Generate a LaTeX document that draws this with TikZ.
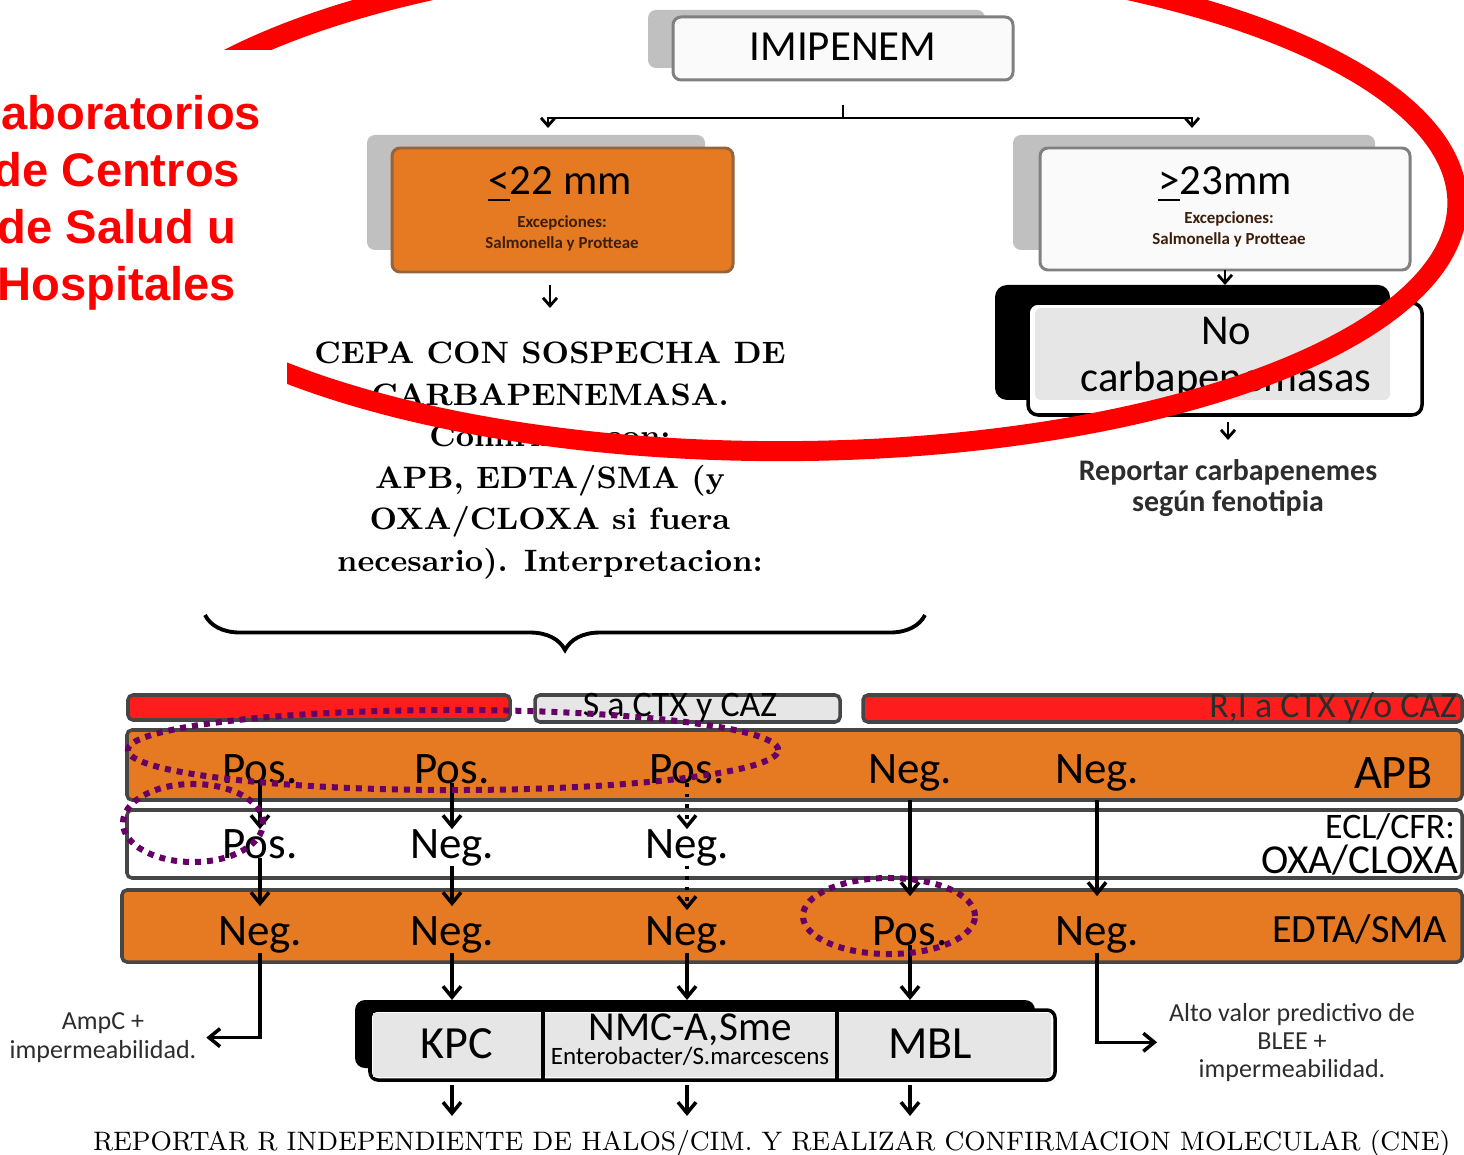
\documentclass[tikz,border=0pt]{standalone}
\usepackage{fontspec}
\newfontfamily\calib{Carlito}
\newfontfamily\arialb{Liberation Sans}
\usetikzlibrary{arrows.meta,decorations.pathreplacing,positioning,fit}
\definecolor{boxorange}{RGB}{229,122,34}
\definecolor{orangeline}{RGB}{150,100,60}
\definecolor{backgray}{RGB}{192,192,192}
\definecolor{cardline}{RGB}{128,128,128}
\definecolor{cardwhite}{RGB}{250,250,250}
\definecolor{barline}{RGB}{70,70,70}
\definecolor{barred}{RGB}{255,28,28}
\definecolor{cellgray}{RGB}{230,230,230}
\definecolor{ringpurple}{RGB}{102,0,102}
\definecolor{darktext}{RGB}{45,45,45}
\definecolor{darkbrown}{RGB}{60,30,10}

\begin{document}
\begin{tikzpicture}[x=0.01cm, y=-0.01cm,
    every node/.style={inner sep=0pt, outer sep=0pt},
    backdrop/.style={fill=backgray, rounded corners=0.08cm},
    card/.style={draw=cardline, line width=0.85pt, rounded corners=0.08cm},
    band/.style={draw=barline, line width=1pt, rounded corners=0.05cm},
    cell/.style={fill=cellgray},
    big/.style={font=\calib\fontsize{12.2}{14}\selectfont},
    small/.style={font=\calib\bfseries\fontsize{4.8}{6}\selectfont, align=center, text=darkbrown},
    row/.style={font=\calib\fontsize{12.8}{14}\selectfont, anchor=base},
    side/.style={font=\calib\fontsize{7.4}{8}\selectfont, align=center, anchor=north, text=darktext},
    toparrow/.style={-{Straight Barb[length=0.08cm,width=0.14cm]}, line width=0.8pt},
    rowarrow/.style={-{Straight Barb[length=0.11cm,width=0.18cm]}, line width=1pt},
    ring/.style={draw=ringpurple, line width=0.06cm, dash pattern=on 0.06cm off 0.06cm}]
  \useasboundingbox (0,0) rectangle (1464,1155);
  \clip (0,0) rectangle (1464,1155);

  \node[backdrop, fit={(648,10)(985,68)}] (imish) {};
  \node[card, fill=cardwhite, fit={(673,17)(1013,80)}] (imi) {};
  \node[big] (imitxt) at (843,47) {IMIPENEM};
  \coordinate (split) at (843,118);
  \coordinate (lt) at (548,128);
  \coordinate (rt) at (1192,128);
  \draw[line width=0.8pt] (split) ++(0,-13) -- (split);
  \draw[toparrow] (split) -| (lt);
  \draw[toparrow] (split) -| (rt);

  \node[backdrop, fit={(367,135)(705,250)}] (lesh) {};
  \node[card, fill=boxorange, draw=orangeline, fit={(392,148)(733,272)}] (le) {};
  \node[big, anchor=base] (letxt) at (560,195) {\underline{<}22 mm};
  \node[small] (leexc) at (562,233) {Excepciones:\\Salmonella y Protteae};

  \node[backdrop, fit={(1013,135)(1375,250)}] (gesh) {};
  \node[card, fill=cardwhite, fit={(1040,148)(1410,270)}] (ge) {};
  \node[big, anchor=base] (getxt) at (1225,195) {\underline{>}23mm};
  \node[small] (geexc) at (1229,229) {Excepciones:\\Salmonella y Protteae};

  \node[fill=black, rounded corners=0.12cm, fit={(995,285)(1390,400)}] (nocarbsh) {};
  \node[draw=black, fill=white, line width=1pt, rounded corners=0.1cm, fit={(1028,303)(1422,415)}] (nocarb) {};
  \node[cell, rounded corners=0.06cm, fit={(1035,308)(1390,400)}] (nocarbin) {};
  \node[font=\calib\fontsize{12.1}{13.4}\selectfont, align=center] (nocarbtxt) at (1226,358) {No\\carbapenemasas};
  \draw[toparrow] (ge.south) -- (ge.south |- nocarbsh.north);
  \node[font=\calib\bfseries\fontsize{8.5}{8.8}\selectfont, align=center, anchor=north, text=darktext] (rep) at (1228,460) {Reportar carbapenemes\\según fenotipia};
  \draw[toparrow] ([yshift=-0.07cm]nocarb.south -| rep.north) -- ([yshift=0.2cm]rep.north);

  \node[font=\bfseries\fontsize{8.8}{11.8}\selectfont, align=center, anchor=north] (cepa) at (550,342) {CEPA CON SOSPECHA DE\\CARBAPENEMASA.\\Confirmar con:\\APB, EDTA/SMA (y\\OXA/CLOXA si fuera\\necesario). Interpretacion:};
  \draw[toparrow] ([yshift=-0.13cm]le.south -| cepa.north) -- ([yshift=0.34cm]cepa.north);
  \coordinate (bl) at (205,615);
  \coordinate (br) at (925,615);
  \draw[line width=1.1pt, decorate, decoration={brace, mirror, amplitude=0.35cm}] (bl) -- (br);

  \node[band, fill=barred, fit={(128,695)(510,720)}] (sred) {};
  \node[band, fill=cellgray, fit={(535,695)(840,722)}] (sgray) {};
  \node[font=\calib\fontsize{10.2}{12}\selectfont] (stxt) at (680,708) {S a CTX y CAZ};
  \node[band, fill=barred, fit={(863,695)(1462,722)}] (rred) {};
  \node[font=\calib\fontsize{10.2}{12}\selectfont, anchor=east, text=darktext] (rtxt) at (1457,708) {R,I a CTX y/o CAZ};

  \node[band, fill=boxorange, fit={(127,730)(1462,800)}] (apb) {};
  \node[band, fill=white, fit={(127,810)(1462,878)}] (oxa) {};
  \node[band, fill=boxorange, fit={(122,890)(1462,962)}] (edta) {};

  \node[row] (a1) at (260,783) {Pos.};
  \node[row] (a2) at (452,783) {Pos.};
  \node[row] (a3) at (687,783) {Pos.};
  \node[row] (a4) at (910,783) {Neg.};
  \node[row] (a5) at (1097,783) {Neg.};
  \node[row, anchor=base east, font=\calib\fontsize{13.7}{15}\selectfont] (apbtxt) at (1433,788) {APB};
  \node[row] (o1) at (260,858) {Pos.};
  \node[row] (o2) at (452,858) {Neg.};
  \node[row] (o3) at (687,858) {Neg.};
  \node[row, anchor=base east, font=\calib\fontsize{10.2}{12}\selectfont] (ecltxt) at (1455,838) {ECL/CFR:};
  \node[row, anchor=base east, font=\calib\fontsize{11.7}{13}\selectfont] (oxatxt) at (1458,873) {OXA/CLOXA};
  \node[row] (e1) at (260,945) {Neg.};
  \node[row] (e2) at (452,945) {Neg.};
  \node[row] (e3) at (687,945) {Neg.};
  \node[row] (e4) at (910,945) {Pos.};
  \node[row] (e5) at (1097,945) {Neg.};
  \node[row, anchor=base east, font=\calib\fontsize{11.4}{13}\selectfont] (edtatxt) at (1447,942) {EDTA/SMA};

  \draw[rowarrow] (a1.south) -- (o1.north);
  \draw[rowarrow] (o1.south) -- ([yshift=0.1cm]e1.north);
  \draw[rowarrow] (a2.south) -- (o2.north);
  \draw[rowarrow] (o2.south) -- ([yshift=0.1cm]e2.north);
  \draw[rowarrow, dotted] (a3.south) -- (o3.north);
  \draw[rowarrow, dotted] (o3.south) -- ([yshift=0.06cm]e3.north);
  \draw[rowarrow] (a4 |- apb.south) -- ([yshift=0.2cm]e4.north);
  \draw[rowarrow] (a5 |- apb.south) -- ([yshift=0.2cm]e5.north);

  \node[fill=black, rounded corners=0.1cm, fit={(355,1000)(1035,1068)}] (mechsh) {};
  \node[draw=black, fill=white, line width=1pt, rounded corners=0.08cm, fit={(370,1010)(1055,1080)}] (mech) {};
  \node[cell, fit={(373,1013)(543,1077)}] (kpc) {};
  \node[cell, fit={(543,1013)(837,1077)}] (nmc) {};
  \node[cell, fit={(837,1013)(1051,1077)}] (mbl) {};
  \draw[line width=1pt] (kpc.east |- mech.north) -- (kpc.east |- mech.south);
  \draw[line width=1pt] (nmc.east |- mech.north) -- (nmc.east |- mech.south);
  \node[row, font=\calib\fontsize{13.1}{15}\selectfont] (kpctxt) at (457,1058) {KPC};
  \node[row, font=\calib\fontsize{11.7}{13}\selectfont] (nmctxt) at (690,1040) {NMC-A,Sme};
  \node[row, font=\calib\fontsize{7.1}{8}\selectfont] (enttxt) at (690,1064) {Enterobacter/S.marcescens};
  \node[row, font=\calib\fontsize{13.1}{15}\selectfont] (mbltxt) at (930,1058) {MBL};

  \node[side] (ampc) at (103,1013) {AmpC +\\impermeabilidad.};
  \node[side] (alto) at (1292,1003) {Alto valor predictivo de\\BLEE +\\impermeabilidad.};
  \node[font=\fontsize{7.6}{9}\selectfont, anchor=base west] (report) at (93,1150) {\scalebox{0.967}[1]{REPORTAR R INDEPENDIENTE DE HALOS/CIM. Y REALIZAR CONFIRMACION MOLECULAR (CNE)}};

  \draw[rowarrow] (e1.south) |- ([xshift=0.1cm]ampc.east);
  \draw[rowarrow] (e2.south) -- (e2.south |- mechsh.north);
  \draw[rowarrow] (e3.south) -- (e3.south |- mechsh.north);
  \draw[rowarrow] (e4.south) -- (e4.south |- mechsh.north);
  \draw[rowarrow] (e5.south) |- ([xshift=-0.12cm]alto.west);
  \draw[rowarrow] ([yshift=-0.05cm]e2 |- mech.south) -- ([yshift=0.14cm]e2 |- report.north);
  \draw[rowarrow] ([yshift=-0.05cm]e3 |- mech.south) -- ([yshift=0.14cm]e3 |- report.north);
  \draw[rowarrow] ([yshift=-0.05cm]e4 |- mech.south) -- ([yshift=0.14cm]e4 |- report.north);

  \draw[ring] (453,750) ellipse [x radius=3.25cm, y radius=0.4cm];
  \draw[ring] (193,823) ellipse [x radius=0.7cm, y radius=0.39cm];
  \draw[ring] (889,916) ellipse [x radius=0.86cm, y radius=0.38cm];

  \draw[red, line width=0.2cm] (780,203) ellipse [x radius=6.77cm, y radius=2.48cm];
  \fill[white] (0,50) rectangle (287,420);
  \node[font=\arialb\bfseries\fontsize{13.4}{16.2}\selectfont, text=red, align=center, anchor=north] (labs) at (117,95) {Laboratorios\\de Centros\\de Salud u\\Hospitales};
\end{tikzpicture}
\end{document}
